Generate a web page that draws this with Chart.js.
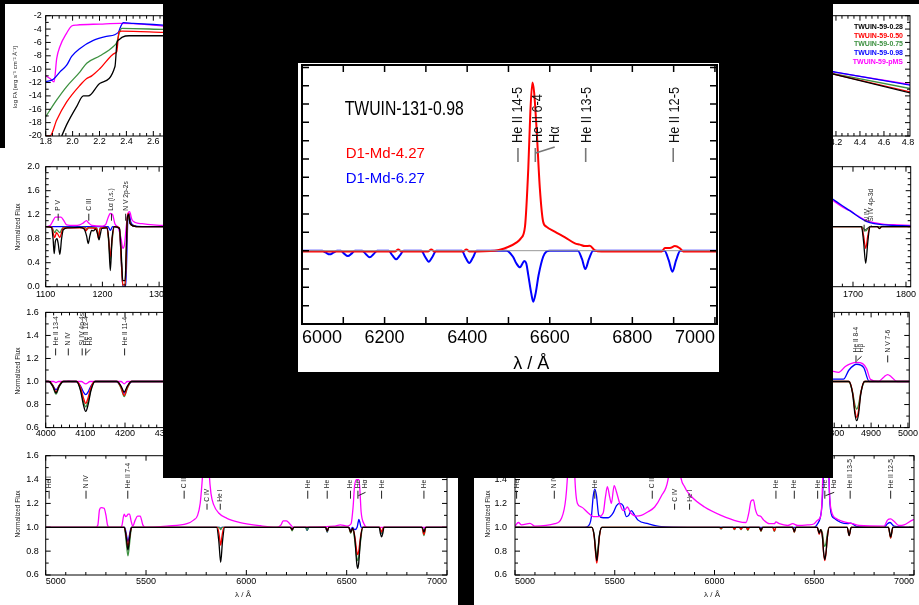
<!DOCTYPE html>
<html>

<head>
  <title>TWUIN spectra</title>
  <script src="https://cdn.jsdelivr.net/npm/chart.js"></script>
  <style>
    body {
      margin: 0;
      background: #fff;
    }

    #page {
      position: relative;
      width: 919px;
      height: 605px;
      overflow: hidden;
      background: #fff;
    }

    #page canvas {
      position: absolute;
    }

    .blk {
      position: absolute;
      background: #000;
    }
  </style>
</head>

<body>
  <div id="page">
    <canvas id="flux-left"></canvas>
    <canvas id="flux-right"></canvas>
    <canvas id="uv-left"></canvas>
    <canvas id="uv-right"></canvas>
    <canvas id="opt-left"></canvas>
    <canvas id="opt-right"></canvas>
    <canvas id="vis-left"></canvas>
    <canvas id="vis-right"></canvas>
    <div class="blk" style="left:0;top:0;width:919px;height:4px"></div>
    <div class="blk" style="left:0;top:0;width:5px;height:148px"></div>
    <div class="blk" style="left:163px;top:0;width:670px;height:478px"></div>
    <div class="blk" style="left:458px;top:478px;width:16px;height:127px"></div>
    <canvas id="inset"></canvas>
  </div>
  <script>
    const FONT = "'Liberation Sans', Arial, Helvetica, sans-serif";
    Chart.defaults.font.family = FONT;

    // ---------- main inset: TWUIN-131-0.98 ----------
    const insetTicksX = [6000, 6200, 6400, 6600, 6800, 7000];
    const insetTicksY = [0.6, 0.8, 1.0, 1.2, 1.4, 1.6, 1.8, 2.0];
    const insetContinuum = [[6000, 1], [7005, 1]];
    const insetRed = [ // D1-Md-4.27
      [6000, 0.996], [6150, 0.996], [6225, 0.996], [6233, 1.007], [6241, 0.996], [6305, 0.996], [6313, 1.007],
      [6321, 0.996], [6390, 0.996], [6398, 1.007], [6406, 0.996], [6467, 1.0], [6499, 1.02], [6519, 1.044],
      [6530, 1.067], [6540, 1.131], [6548, 1.449], [6553, 1.758], [6558, 1.918], [6562, 1.867], [6568, 1.667],
      [6576, 1.34], [6584, 1.158], [6592, 1.131], [6612, 1.104], [6637, 1.073], [6661, 1.04], [6673, 1.033],
      [6685, 1.025], [6697, 1.027], [6709, 1.002], [6725, 0.996], [6871, 0.996], [6879, 1.015], [6891, 1.015],
      [6903, 1.025], [6915, 1.013], [6923, 0.996], [7005, 0.996]
    ];
    const insetBlue = [ // D1-Md-6.27
      [6000, 1], [6049, 1], [6058, 0.989], [6067, 0.98], [6076, 0.989], [6085, 1],
      [6094, 1], [6102, 0.984], [6111, 0.971], [6120, 0.984], [6128, 1],
      [6146, 1], [6155, 0.98], [6164, 0.964], [6173, 0.98], [6182, 1],
      [6210, 1], [6219, 0.974], [6228, 0.953], [6237, 0.974], [6246, 1],
      [6289, 1], [6298, 0.967], [6307, 0.94], [6316, 0.967], [6325, 1],
      [6387, 1], [6396, 0.963], [6405, 0.933], [6414, 0.963], [6423, 1],
      [6495, 1], [6511, 0.967], [6519, 0.931], [6528, 0.909], [6533, 0.926], [6538, 0.944], [6543, 0.931],
      [6548, 0.867], [6555, 0.77], [6560, 0.722], [6566, 0.77], [6573, 0.867], [6584, 0.967], [6592, 0.995], [6600, 1],
      [6668, 1], [6678, 0.955], [6686, 0.9], [6695, 0.955], [6705, 1],
      [6878, 1], [6888, 0.948], [6897, 0.885], [6906, 0.948], [6916, 1], [7005, 1]
    ];
    const insetLines = [
      { t: 'He II 14-5', wl: 6523 },
      { t: 'He II 6-4', wl: 6570, tw: 6565 },
      { t: 'H\u03B1', wl: 6612, link: 6566 },
      { t: 'He II 13-5', wl: 6689, tw: 6687 },
      { t: 'He II 12-5', wl: 6902, tw: 6899 }
    ];

    // ---------- background grid of TWUIN-59 models ----------
    const modelNames = ['TWUIN-59-0.28', 'TWUIN-59-0.50', 'TWUIN-59-0.75', 'TWUIN-59-0.98', 'TWUIN-59-pMS'];
    const modelColors = ['#000000', '#ff0000', '#3d9140', '#0000ff', '#ff00ff'];

    const logLamTicks = [1.8, 2.0, 2.2, 2.4, 2.6, 2.8, 3.0, 3.2, 3.4, 3.6, 3.8, 4.0, 4.2, 4.4, 4.6, 4.8];
    const logFTicks = [-20, -18, -16, -14, -12, -10, -8, -6, -4, -2];
    const uvTicks = [1100, 1200, 1300, 1400, 1500, 1600, 1700, 1800];
    const optTicks = [4000, 4100, 4200, 4300, 4400, 4500, 4600, 4700, 4800, 4900, 5000];
    const visTicks = [5000, 5500, 6000, 6500, 7000];
    const normTicksUV = [0.0, 0.4, 0.8, 1.2, 1.6, 2.0];
    const normTicks = [0.6, 0.8, 1.0, 1.2, 1.4, 1.6];

    // log F_lambda vs log lambda (left panel)
    const fluxLeft = [
      [[1.919, -20], [1.956, -18.3], [2.03, -15.6], [2.08, -14.0], [2.117, -14.0], [2.204, -12.1], [2.315, -9.6],
      [2.33, -6.0], [2.345, -5.6], [2.37, -5.2], [2.42, -5.0], [2.674, -5.0]],
      [[1.8, -20], [1.832, -20], [1.882, -17.6], [1.956, -14.9], [2.055, -12.4], [2.105, -11.4], [2.142, -11.0],
      [2.204, -9.9], [2.315, -7.6], [2.328, -7.4], [2.345, -4.4], [2.365, -4.3], [2.674, -4.5]],
      [[1.8, -17.1], [1.882, -14.6], [1.956, -12.6], [2.055, -10.4], [2.105, -9.1], [2.204, -8.0], [2.303, -6.6],
      [2.328, -6.0], [2.347, -4.6], [2.365, -3.9], [2.674, -4.05]],
      [[1.8, -11.9], [1.857, -11.5], [1.906, -10.4], [1.956, -9.4], [1.993, -8.1], [2.055, -6.9], [2.154, -5.7],
      [2.253, -5.1], [2.34, -4.5], [2.357, -3.65], [2.377, -3.05], [2.45, -3.15], [2.674, -3.4]],
      [[1.8, -11.0], [1.832, -11.4], [1.862, -11.9], [1.882, -8.4], [1.906, -6.6], [1.956, -4.6], [1.993, -3.55],
      [2.03, -3.4], [2.204, -3.25], [2.352, -3.15], [2.45, -3.2], [2.674, -3.55]]
    ];
    // log F_lambda vs log lambda (right panel, far IR tail)
    const fluxRight = [
      [[4.17, -10.7], [4.82, -13.55]],
      [[4.17, -10.7], [4.82, -13.4]],
      [[4.17, -10.65], [4.82, -12.9]],
      [[4.17, -10.35], [4.82, -12.4]],
      [[4.17, -10.4], [4.82, -12.3]]
    ];

    // UV normalized flux, 1100-1300 A
    const uvLeft = [
      [[1100, 1], [1110, 0.99], [1113, 0.8], [1115, 0.55], [1117, 0.75], [1120, 0.8], [1122, 0.72], [1125, 0.54],
      [1128, 0.8], [1131, 0.95], [1140, 0.98], [1160, 0.99], [1168, 0.96], [1172, 0.85], [1175, 0.72], [1178, 0.85],
      [1181, 0.94], [1184, 0.93], [1188, 0.96], [1192, 0.86], [1194, 0.78], [1196, 0.86], [1199, 0.97], [1208, 0.98],
      [1211, 0.8], [1214, 0.27], [1217, 0.8], [1221, 1.0], [1230, 0.97], [1233, 0.6], [1236, 0.1], [1240, 0.1],
      [1242, 0.6], [1244, 1.15], [1246, 1.2], [1249, 1.05], [1260, 1.0], [1800, 1]],
      [[1100, 1], [1111, 0.99], [1113, 0.9], [1116, 0.82], [1119, 0.9], [1121, 0.88], [1125, 0.82], [1128, 0.9],
      [1131, 0.98], [1168, 0.98], [1171, 0.93], [1174, 0.98], [1190, 0.97], [1193, 0.8], [1196, 0.97], [1208, 0.99],
      [1211, 0.8], [1214, 0.5], [1217, 0.8], [1221, 1.0], [1230, 0.98], [1233, 0.5], [1236, 0.03], [1240, 0.03],
      [1242, 0.5], [1244, 1.15], [1246, 1.22], [1249, 1.05], [1260, 1.0], [1800, 1]],
      [[1100, 1], [1111, 0.99], [1113, 0.95], [1116, 0.9], [1119, 0.95], [1125, 0.9], [1128, 0.95], [1131, 0.99],
      [1170, 0.99], [1173, 0.95], [1176, 0.99], [1190, 0.98], [1193, 0.85], [1196, 0.98], [1208, 0.99], [1211, 0.75],
      [1214, 0.45], [1217, 0.75], [1221, 1.0], [1230, 0.98], [1233, 0.5], [1236, 0.03], [1240, 0.03], [1242, 0.5],
      [1244, 1.1], [1246, 1.18], [1249, 1.05], [1260, 1.0], [1800, 1]],
      [[1100, 1], [1210, 1], [1214, 0.94], [1218, 1], [1230, 0.98], [1233, 0.5], [1236, 0.0], [1241, 0.0],
      [1243, 0.5], [1245, 1.15], [1247, 1.22], [1250, 1.08], [1256, 1.02], [1270, 1.0], [1800, 1]],
      [[1100, 1], [1108, 1.02], [1113, 1.1], [1117, 1.16], [1127, 1.16], [1132, 1.1], [1137, 1.03], [1150, 1.02],
      [1160, 1.03], [1166, 1.06], [1172, 1.1], [1176, 1.06], [1182, 1.02], [1200, 1.01], [1206, 1.04], [1210, 1.15],
      [1214, 1.22], [1218, 1.2], [1222, 1.05], [1228, 0.98], [1233, 0.8], [1236, 0.64], [1239, 0.7], [1242, 1.0],
      [1245, 1.22], [1248, 1.25], [1252, 1.12], [1258, 1.07], [1270, 1.05], [1290, 1.03], [1310, 1.02], [1800, 1]]
    ];
    const uvLeftLines = [
      { t: 'P V', wl: 1122 }, { t: 'C III', wl: 1176 }, { t: 'L\u03B1 (i.s.)', wl: 1216 }, { t: 'N V 2p-2s', wl: 1241 }
    ];

    // UV normalized flux, 1650-1810 A
    const uvRight = [
      [[1660, 1], [1716, 1], [1720, 0.75], [1724, 0.39], [1728, 0.75], [1732, 1], [1746, 1], [1750, 0.97], [1754, 1], [1810, 1]],
      [[1660, 1], [1716, 1], [1720, 0.85], [1724, 0.64], [1728, 0.85], [1732, 1], [1746, 1], [1750, 0.97], [1754, 1], [1810, 1]],
      [[1660, 1], [1716, 1], [1720, 0.97], [1724, 0.93], [1728, 0.97], [1732, 1], [1810, 1]],
      [[1660, 1.47], [1680, 1.35], [1700, 1.23], [1713, 1.15], [1725, 1.09], [1740, 1.05], [1760, 1.03], [1810, 1.01]],
      [[1660, 1.45], [1680, 1.33], [1690, 1.28], [1695, 1.27], [1702, 1.22], [1713, 1.16], [1725, 1.1], [1737, 1.07],
      [1760, 1.04], [1785, 1.03], [1810, 1.02]]
    ];
    const uvRightLines = [{ t: 'N IV', wl: 1726, tw: 1721 }, { t: 'Si IV 4p-3d', wl: 1735, link: 1723 }];

    // optical normalized flux, 4000-4300 A
    const optLeft = [
      [[4000, 1], [4008, 1], [4018, 0.96], [4026, 0.9], [4034, 0.96], [4044, 1], [4078, 1], [4088, 0.92], [4095, 0.8],
      [4101, 0.74], [4107, 0.8], [4114, 0.92], [4124, 1], [4180, 1], [4190, 0.96], [4198, 0.91], [4206, 0.96], [4216, 1], [4300, 1]],
      [[4000, 1], [4008, 1], [4018, 0.965], [4026, 0.91], [4034, 0.965], [4044, 1], [4078, 1], [4088, 0.95], [4095, 0.86],
      [4101, 0.81], [4107, 0.86], [4114, 0.95], [4124, 1], [4180, 1], [4190, 0.95], [4198, 0.88], [4206, 0.95], [4216, 1], [4300, 1]],
      [[4000, 1], [4008, 1], [4018, 0.955], [4026, 0.89], [4034, 0.955], [4044, 1], [4078, 1], [4088, 0.93], [4095, 0.83],
      [4101, 0.78], [4107, 0.83], [4114, 0.93], [4124, 1], [4180, 1], [4190, 0.94], [4198, 0.87], [4206, 0.94], [4216, 1], [4300, 1]],
      [[4000, 1], [4006, 1], [4017, 0.97], [4026, 0.93], [4035, 0.97], [4046, 1], [4076, 1], [4088, 0.96], [4095, 0.91],
      [4101, 0.886], [4107, 0.91], [4114, 0.96], [4126, 1], [4178, 1], [4189, 0.96], [4198, 0.9], [4207, 0.96], [4218, 1], [4300, 1]],
      [[4000, 1], [4020, 1], [4026, 0.99], [4032, 1], [4052, 1], [4058, 1.006], [4064, 1], [4090, 1], [4101, 0.98],
      [4112, 1], [4190, 1], [4198, 0.98], [4206, 1], [4300, 1]]
    ];
    const optLeftLines = [
      { t: 'He II 13-4', wl: 4025 }, { t: 'N IV', wl: 4057 }, { t: 'Si IV 4p-4s', wl: 4092 },
      { t: 'He II 12-4', wl: 4101 }, { t: 'H\u03B4', wl: 4112, link: 4102 }, { t: 'He II 11-4', wl: 4199 }
    ];

    // optical normalized flux, 4800-5000 A
    const optRight = [
      [[4795, 1], [4840, 1], [4850, 0.89], [4856, 0.72], [4861, 0.66], [4866, 0.72], [4872, 0.89], [4882, 1], [5004, 1]],
      [[4795, 1], [4840, 1], [4850, 0.9], [4856, 0.75], [4861, 0.69], [4866, 0.75], [4872, 0.9], [4882, 1], [5004, 1]],
      [[4795, 1], [4838, 1], [4849, 0.92], [4856, 0.8], [4861, 0.76], [4866, 0.8], [4873, 0.92], [4884, 1], [5004, 1]],
      [[4795, 1.02], [4825, 1.02], [4840, 1.1], [4861, 1.15], [4880, 1.12], [4895, 1.0], [5004, 1.0]],
      [[4795, 1.09], [4812, 1.08], [4830, 1.13], [4845, 1.155], [4861, 1.166], [4877, 1.155], [4888, 1.11], [4898, 1.02],
      [4920, 1.0], [4935, 1.04], [4945, 1.06], [4955, 1.04], [4970, 1.0], [5004, 1.0]]
    ];
    const optRightLines = [{ t: 'He II 8-4', wl: 4859 }, { t: 'H\u03B2', wl: 4874, link: 4862 }, { t: 'N V 7-6', wl: 4945 }];

    // visual normalized flux, 5000-7000 A (left model set)
    const visLeft = [
      [[5000, 1], [5392, 1], [5401, 0.92], [5410, 0.81], [5419, 0.92], [5428, 1], [5852, 1], [5863, 0.88], [5872, 0.706],
      [5881, 0.88], [5892, 1], [6220, 1], [6228, 0.98], [6236, 1], [6395, 1], [6403, 0.97], [6411, 1], [6510, 1],
      [6520, 0.96], [6530, 0.99], [6541, 0.9], [6550, 0.7], [6555, 0.656], [6560, 0.7], [6569, 0.9], [6580, 1],
      [6662, 1], [6668, 0.95], [6674, 0.92], [6680, 0.95], [6686, 1], [6876, 1], [6885, 0.96], [6894, 1], [7000, 1]],
      [[5000, 1], [5392, 1], [5401, 0.93], [5410, 0.84], [5419, 0.93], [5428, 1], [5856, 1], [5865, 0.93], [5872, 0.85],
      [5879, 0.93], [5888, 1], [6220, 1], [6228, 0.98], [6236, 1], [6395, 1], [6403, 0.97], [6411, 1], [6510, 1],
      [6520, 0.96], [6530, 0.99], [6541, 0.92], [6550, 0.8], [6555, 0.77], [6560, 0.8], [6569, 0.92], [6580, 1],
      [6664, 1], [6674, 0.96], [6684, 1], [6875, 1], [6885, 0.94], [6895, 1], [7000, 1]],
      [[5000, 1], [5392, 1], [5401, 0.88], [5410, 0.76], [5419, 0.88], [5428, 1], [5866, 1], [5872, 0.98], [5878, 1],
      [6220, 1], [6228, 0.97], [6236, 1], [6295, 1], [6303, 0.975], [6311, 1], [6395, 1], [6403, 0.96], [6411, 1],
      [6510, 1], [6520, 0.95], [6530, 0.99], [6541, 0.88], [6550, 0.75], [6555, 0.72], [6560, 0.75], [6569, 0.88],
      [6580, 1], [6664, 1], [6674, 0.95], [6684, 1], [6875, 1], [6885, 0.93], [6895, 1], [7000, 1]],
      [[5000, 1], [5394, 1], [5402, 0.94], [5410, 0.88], [5418, 0.94], [5426, 1], [5866, 1], [5872, 0.99], [5878, 1],
      [6220, 1], [6228, 0.98], [6236, 1], [6295, 1], [6303, 0.975], [6311, 1], [6395, 1], [6403, 0.96], [6411, 1],
      [6512, 1], [6520, 0.97], [6528, 1], [6540, 0.98], [6552, 1.0], [6557, 1.04], [6561, 1.066], [6566, 1.04],
      [6572, 1.0], [6580, 1], [6664, 1], [6674, 0.95], [6684, 1], [6876, 1], [6885, 0.955], [6894, 1], [7000, 1]],
      [[5000, 1], [5250, 1], [5260, 1.019], [5268, 1.145], [5276, 1.164], [5291, 1.159], [5300, 1.103], [5308, 1.019],
      [5316, 1], [5370, 1], [5379, 1.01], [5391, 1.11], [5398, 1.09], [5404, 1.095], [5411, 1.11], [5418, 1.11],
      [5426, 1.05], [5434, 1.01], [5446, 1.06], [5458, 1.094], [5471, 1.094], [5484, 1.02], [5496, 1], [5604, 1.01],
      [5704, 1.03], [5737, 1.06], [5757, 1.1], [5770, 1.2], [5779, 1.37], [5787, 1.56], [5795, 1.8], [5807, 1.8],
      [5815, 1.45], [5824, 1.28], [5837, 1.19], [5862, 1.12], [5903, 1.075], [5970, 1.04], [6070, 1.013], [6153, 1.0],
      [6173, 1.02], [6183, 1.053], [6200, 1.053], [6216, 1.03], [6233, 1.0], [6436, 1.01], [6469, 1.02], [6502, 1.01],
      [6522, 1.03], [6532, 1.17], [6539, 1.34], [6549, 1.4], [6561, 1.4], [6566, 1.31], [6572, 1.13], [6586, 1.03],
      [6602, 1.0], [7000, 1]]
    ];
    const visLeftLines = [
      { t: 'He I', wl: 5017 }, { t: 'N IV', wl: 5201 }, { t: 'He II 7-4', wl: 5409 }, { t: 'C III', wl: 5690 },
      { t: 'He I', wl: 6306 }, { t: 'He I', wl: 6403 }, { t: 'He I', wl: 6519 }, { t: 'He II', wl: 6556 },
      { t: 'H\u03B1', wl: 6594, link: 6558 }, { t: 'He I', wl: 6674 }, { t: 'He I', wl: 6885 }
    ];
    const visLeftLinesLow = [{ t: 'C IV', wl: 5804 }, { t: 'He I', wl: 5870 }];

    // visual normalized flux, 5000-7000 A (right model set)
    const visRight = [
      [[5000, 1], [5385, 1], [5397, 0.93], [5404, 0.8], [5410, 0.72], [5416, 0.8], [5423, 0.93], [5435, 1], [6225, 1],
      [6233, 0.975], [6241, 1], [6392, 1], [6400, 0.965], [6408, 1], [6515, 1], [6525, 0.95], [6532, 0.98], [6541, 0.92],
      [6547, 0.79], [6553, 0.73], [6559, 0.79], [6566, 0.92], [6575, 1], [6665, 1], [6675, 0.93], [6685, 1], [6872, 1],
      [6883, 0.92], [6894, 1], [7000, 1]],
      [[5000, 1], [5385, 1], [5397, 0.92], [5404, 0.78], [5410, 0.7], [5416, 0.78], [5423, 0.92], [5435, 1], [6025, 1],
      [6033, 0.99], [6041, 1], [6092, 1], [6100, 0.985], [6108, 1], [6125, 1], [6133, 0.985], [6141, 1], [6159, 1],
      [6167, 0.98], [6175, 1], [6225, 1], [6233, 0.97], [6241, 1], [6292, 1], [6300, 0.97], [6308, 1], [6392, 1],
      [6400, 0.96], [6408, 1], [6515, 1], [6525, 0.94], [6532, 0.98], [6541, 0.92], [6547, 0.78], [6553, 0.72],
      [6559, 0.78], [6566, 0.92], [6575, 1], [6665, 1], [6675, 0.93], [6685, 1], [6872, 1], [6883, 0.91], [6894, 1], [7000, 1]],
      [[5000, 1], [5385, 1], [5397, 0.93], [5404, 0.82], [5410, 0.75], [5416, 0.82], [5423, 0.93], [5435, 1], [6025, 1],
      [6033, 0.985], [6041, 1], [6092, 1], [6100, 0.98], [6108, 1], [6125, 1], [6133, 0.98], [6141, 1], [6159, 1],
      [6167, 0.975], [6175, 1], [6225, 1], [6233, 0.965], [6241, 1], [6292, 1], [6300, 0.965], [6308, 1], [6392, 1],
      [6400, 0.955], [6408, 1], [6515, 1], [6525, 0.95], [6532, 0.98], [6541, 0.95], [6547, 0.87], [6553, 0.84],
      [6559, 0.87], [6566, 0.95], [6575, 1], [6665, 1], [6675, 0.94], [6685, 1], [6872, 1], [6883, 0.91], [6894, 1], [7000, 1]],
      [[5000, 1], [5350, 1], [5375, 1.03], [5383, 1.09], [5392, 1.26], [5400, 1.32], [5408, 1.27], [5420, 1.1],
      [5442, 1.08], [5467, 1.08], [5492, 1.12], [5508, 1.18], [5525, 1.2], [5542, 1.18], [5558, 1.09], [5570, 1.1],
      [5583, 1.14], [5600, 1.1], [5617, 1.06], [5667, 1.03], [5733, 1.005], [5867, 1], [6500, 1], [6517, 1.03],
      [6530, 1.08], [6538, 1.17], [6545, 1.4], [6550, 1.8], [6570, 1.8], [6575, 1.34], [6583, 1.13], [6600, 1.075],
      [6633, 1.04], [6667, 1.03], [6683, 1.035], [6717, 1.005], [6850, 1], [6867, 1.03], [6880, 1.04], [6900, 1.01], [7000, 1]],
      [[5000, 1.01], [5017, 1.04], [5033, 1.02], [5075, 1.033], [5100, 1.01], [5200, 1.03], [5233, 1.075], [5255, 1.25],
      [5267, 1.55], [5275, 1.9], [5292, 1.9], [5300, 1.42], [5313, 1.2], [5333, 1.17], [5367, 1.12], [5392, 1.09],
      [5417, 1.09], [5442, 1.12], [5453, 1.25], [5463, 1.34], [5475, 1.25], [5483, 1.2], [5497, 1.35], [5508, 1.3],
      [5525, 1.2], [5542, 1.14], [5553, 1.15], [5563, 1.17], [5580, 1.12], [5608, 1.094], [5633, 1.1], [5667, 1.13],
      [5700, 1.17], [5733, 1.26], [5767, 1.4], [5780, 1.59], [5792, 1.9], [5813, 1.9], [5825, 1.5], [5850, 1.34],
      [5883, 1.26], [5950, 1.17], [6033, 1.1], [6117, 1.05], [6158, 1.04], [6172, 1.12], [6183, 1.22], [6195, 1.23],
      [6205, 1.15], [6217, 1.1], [6230, 1.094], [6247, 1.06], [6275, 1.03], [6300, 1.03], [6308, 1.045], [6325, 1.03],
      [6367, 1.015], [6392, 1.03], [6417, 1.015], [6467, 1.02], [6500, 1.03], [6517, 1.06], [6533, 1.1], [6542, 1.4],
      [6547, 1.9], [6570, 1.9], [6575, 1.37], [6583, 1.16], [6608, 1.075], [6642, 1.05], [6692, 1.03], [6725, 1.015],
      [6850, 1.01], [6867, 1.06], [6883, 1.07], [6900, 1.05], [6925, 1.015], [6950, 1.02], [6992, 1.06], [7000, 1.065]]
    ];
    const visRightLines = [
      { t: 'He I', wl: 5008 }, { t: 'N IV', wl: 5197 }, { t: 'He I', wl: 5400 }, { t: 'C II', wl: 5688 },
      { t: 'He I', wl: 6308 }, { t: 'He I', wl: 6400 }, { t: 'He I', wl: 6517 }, { t: 'He II', wl: 6553 },
      { t: 'H\u03B1', wl: 6600, link: 6556 }, { t: 'He II 13-5', wl: 6680 }, { t: 'He II 12-5', wl: 6883 }
    ];
    const visRightLinesLow = [{ t: 'C IV', wl: 5800 }, { t: 'He I', wl: 5875 }];

    // ---------- drawing helpers ----------
    const fmt1 = v => v.toFixed(1);
    const fmtInt = v => String(Math.round(v));

    function keepIn(arr, s) {
      return arr.filter(v => v >= s.min - 1e-9 && v <= s.max + 1e-9);
    }

    function eachStep(min, max, st, fn) {
      const n0 = Math.ceil(min / st[0] - 1e-6), n1 = Math.floor(max / st[0] + 1e-6);
      for (let n = n0; n <= n1; n++) {
        const v = n * st[0], q = v / st[1];
        fn(v, Math.abs(q - Math.round(q)) < 1e-6);
      }
    }

    function decoPlugin(p) {
      const d = p.deco;
      return {
        id: 'deco',
        afterDraw(chart) {
          const ctx = chart.ctx, a = chart.chartArea;
          const xs = chart.scales.x, ys = chart.scales.y;
          ctx.save();
          // inward ticks on all four sides
          ctx.strokeStyle = '#000';
          ctx.lineWidth = d.tickW;
          ctx.beginPath();
          eachStep(xs.min, xs.max, d.xStep, (v, major) => {
            const px = xs.getPixelForValue(v), L = major ? d.len[0] : d.len[1];
            ctx.moveTo(px, a.bottom); ctx.lineTo(px, a.bottom - L);
            ctx.moveTo(px, a.top); ctx.lineTo(px, a.top + L);
          });
          eachStep(ys.min, ys.max, d.yStep, (v, major) => {
            const py = ys.getPixelForValue(v), L = major ? d.len[0] : d.len[1];
            ctx.moveTo(a.left, py); ctx.lineTo(a.left + L, py);
            ctx.moveTo(a.right, py); ctx.lineTo(a.right - L, py);
          });
          ctx.stroke();
          ctx.lineWidth = d.frameW;
          ctx.strokeRect(a.left, a.top, a.right - a.left, a.bottom - a.top);

          // line identifications
          const s = d.ids;
          if (s) {
            [[p.lines || [], s.row1], [p.linesLow || [], s.row2]].forEach(([items, row]) => {
              items.forEach(it => {
                const px = xs.getPixelForValue(it.wl);
                const yb = a.top + row[0];
                ctx.save();
                ctx.translate(px, yb);
                ctx.rotate(-Math.PI / 2);
                ctx.scale(s.sx, 1);
                ctx.font = s.font;
                ctx.fillStyle = s.color;
                ctx.textAlign = 'left';
                ctx.textBaseline = 'middle';
                ctx.fillText(it.t, 0, 0);
                ctx.restore();
                ctx.strokeStyle = s.tick;
                ctx.lineWidth = s.tickW;
                ctx.beginPath();
                if (it.link !== undefined) {
                  ctx.moveTo(px, yb + 4);
                  ctx.lineTo(xs.getPixelForValue(it.link), a.top + row[1] + 5);
                } else {
                  const tx = xs.getPixelForValue(it.tw !== undefined ? it.tw : it.wl);
                  ctx.moveTo(tx, a.top + row[1]);
                  ctx.lineTo(tx, a.top + row[2]);
                }
                ctx.stroke();
              });
            });
          }

          // free texts, given in page coordinates
          (d.texts || []).forEach(t => {
            ctx.save();
            ctx.translate(t.x - p.box[0], t.y - p.box[1]);
            if (t.rot) ctx.rotate(t.rot * Math.PI / 180);
            ctx.scale(t.sx || 1, 1);
            ctx.font = (t.bold ? 'bold ' : '') + t.size + 'px ' + FONT;
            ctx.fillStyle = t.color || '#000';
            ctx.textAlign = t.align || 'center';
            ctx.textBaseline = 'middle';
            ctx.fillText(t.t, 0, 0);
            ctx.restore();
          });
          ctx.restore();
        }
      };
    }

    function buildPanel(p) {
      const cv = document.getElementById(p.id);
      const [bx, by, bw, bh] = p.box;
      const [al, at, ar, ab] = p.area;
      cv.width = bw;
      cv.height = bh;
      cv.style.left = bx + 'px';
      cv.style.top = by + 'px';
      cv.style.background = '#fff';
      return new Chart(cv, {
        type: 'line',
        data: {
          datasets: p.series.map(s => ({
            data: s.data.map(([x, y]) => ({ x, y })),
            borderColor: s.color,
            borderWidth: s.width,
            pointRadius: 0,
            fill: false,
            cubicInterpolationMode: 'monotone'
          }))
        },
        options: {
          responsive: false,
          animation: false,
          devicePixelRatio: 1,
          events: [],
          layout: { autoPadding: false, padding: { left: 0, top: at - by, right: bx + bw - ar, bottom: 0 } },
          plugins: { legend: { display: false }, tooltip: { enabled: false } },
          scales: {
            x: {
              type: 'linear',
              min: p.x.min,
              max: p.x.max,
              grid: { display: false, drawTicks: false },
              border: { display: false },
              ticks: {
                autoSkip: false, maxRotation: 0, minRotation: 0,
                align: p.x.align || 'center', padding: p.x.pad, color: '#000',
                font: { family: FONT, size: p.x.size }, callback: p.x.fmt
              },
              afterBuildTicks: s => { s.ticks = keepIn(p.x.ticks, s).map(v => ({ value: v })); },
              afterFit: s => { s.height = by + bh - ab; }
            },
            y: {
              type: 'linear',
              min: p.y.min,
              max: p.y.max,
              grid: { display: false, drawTicks: false },
              border: { display: false },
              ticks: {
                display: p.y.show !== false, autoSkip: false, padding: p.y.pad, color: '#000',
                font: { family: FONT, size: p.y.size }, callback: p.y.fmt
              },
              afterBuildTicks: s => { s.ticks = keepIn(p.y.ticks, s).map(v => ({ value: v })); },
              afterFit: s => { s.width = al - bx; }
            }
          }
        },
        plugins: [decoPlugin(p)]
      });
    }

    function modelSeries(sets, order) {
      return order.map(i => ({ data: sets[i], color: modelColors[i], width: 1.3 }));
    }

    const smallIds = (row1, row2) => ({
      font: '7px ' + FONT, sx: 0.95, color: '#222', tick: '#222', tickW: 1, row1: row1, row2: row2 || row1
    });
    const smallDeco = (xStep, yStep, ids, texts) => ({
      frameW: 1, tickW: 1, len: [5, 3], xStep: xStep, yStep: yStep, ids: ids, texts: texts
    });
    const normTitle = (x, y) => ({ t: 'Normalized Flux', x: x, y: y, size: 6.5, rot: -90, color: '#222' });
    const lamTitle = (x, y) => ({ t: '\u03BB / \u00C5', x: x, y: y, size: 8, color: '#222' });

    // ---------- background panels ----------
    buildPanel({
      id: 'flux-left', box: [0, 0, 460, 150], area: [45.7, 15.7, 435.8, 136],
      x: { min: 1.8, max: 4.7, ticks: logLamTicks, fmt: fmt1, pad: 0, size: 9 },
      y: { min: -20, max: -2, ticks: logFTicks, fmt: fmtInt, pad: 4, size: 9 },
      series: modelSeries(fluxLeft, [0, 1, 2, 3, 4]),
      deco: smallDeco([0.05, 0.2], [1, 2], null, [
        { t: 'log F\u03BB [erg s\u207B\u00B9 cm\u207B\u00B2 \u00C5\u207B\u00B9]', x: 15, y: 77, size: 6, rot: -90, color: '#222' }
      ])
    });

    buildPanel({
      id: 'flux-right', box: [475, 0, 444, 150], area: [524, 15.7, 910, 136],
      x: { min: 1.6, max: 4.817, ticks: logLamTicks, fmt: fmt1, pad: 1, size: 9 },
      y: { min: -20, max: -2, ticks: logFTicks, fmt: fmtInt, pad: 4, size: 9 },
      series: modelSeries(fluxRight, [0, 1, 2, 3, 4]),
      deco: smallDeco([0.05, 0.2], [1, 2], null, modelNames.map((n, i) => ({
        t: n, x: 903, y: 26.7 + i * 8.9, size: 7, bold: true, align: 'right', color: modelColors[i]
      })))
    });

    buildPanel({
      id: 'uv-left', box: [0, 150, 460, 150], area: [45.7, 166.7, 442.6, 286.7],
      x: { min: 1100, max: 1800, ticks: uvTicks, fmt: fmtInt, pad: 2.5, size: 9 },
      y: { min: 0, max: 2, ticks: normTicksUV, fmt: fmt1, pad: 6, size: 9 },
      series: modelSeries(uvLeft, [0, 1, 2, 4, 3]),
      lines: uvLeftLines,
      deco: smallDeco([20, 100], [0.1, 0.4], smallIds([44, 47, 54]), [normTitle(18, 227)])
    });

    buildPanel({
      id: 'uv-right', box: [475, 150, 444, 150], area: [535, 166.7, 910.7, 286.7],
      x: { min: 1100, max: 1808.9, ticks: uvTicks, fmt: fmtInt, pad: 2.5, size: 9 },
      y: { min: 0, max: 2, ticks: normTicksUV, fmt: fmt1, pad: 6, size: 9 },
      series: modelSeries(uvRight, [0, 1, 2, 3, 4]),
      lines: uvRightLines,
      deco: smallDeco([20, 100], [0.1, 0.4], smallIds([55, 58, 65]), [])
    });

    buildPanel({
      id: 'opt-left', box: [0, 300, 460, 140], area: [45.7, 311.7, 442.2, 430.7],
      x: { min: 4000, max: 5000, ticks: optTicks, fmt: fmtInt, pad: 1, size: 9 },
      y: { min: 0.6, max: 1.6, ticks: normTicks, fmt: fmt1, pad: 7, size: 9 },
      series: modelSeries(optLeft, [0, 1, 2, 3, 4]),
      lines: optLeftLines,
      deco: smallDeco([20, 100], [0.1, 0.2], smallIds([33, 36, 43]), [normTitle(18, 371)])
    });

    buildPanel({
      id: 'opt-right', box: [475, 300, 444, 140], area: [539.4, 311.7, 910.7, 430.7],
      x: { min: 4000, max: 5003.5, ticks: optTicks, fmt: fmtInt, pad: 1, size: 9 },
      y: { min: 0.6, max: 1.6, ticks: normTicks, fmt: fmt1, pad: 7, size: 9 },
      series: modelSeries(optRight, [0, 1, 2, 3, 4]),
      lines: optRightLines,
      deco: smallDeco([20, 100], [0.1, 0.2], smallIds([40, 43, 50]), [])
    });

    buildPanel({
      id: 'vis-left', box: [0, 440, 460, 165], area: [45.7, 455.7, 447, 575],
      x: { min: 5000, max: 7000, ticks: visTicks, fmt: fmtInt, pad: 1, size: 9, align: 'inner' },
      y: { min: 0.6, max: 1.6, ticks: normTicks, fmt: fmt1, pad: 7, size: 9 },
      series: modelSeries(visLeft, [0, 1, 2, 4, 3]),
      lines: visLeftLines,
      linesLow: visLeftLinesLow,
      deco: smallDeco([100, 500], [0.1, 0.2], smallIds([32.6, 35, 43], [46, 48, 54]),
        [normTitle(18, 514), lamTitle(243, 595)])
    });

    buildPanel({
      id: 'vis-right', box: [475, 440, 444, 165], area: [515, 455.7, 914, 575],
      x: { min: 5000, max: 7000, ticks: visTicks, fmt: fmtInt, pad: 1, size: 9, align: 'inner' },
      y: { min: 0.6, max: 1.6, ticks: normTicks, fmt: fmt1, pad: 8, size: 9 },
      series: modelSeries(visRight, [0, 1, 2, 4, 3]),
      lines: visRightLines,
      linesLow: visRightLinesLow,
      deco: smallDeco([100, 500], [0.1, 0.2], smallIds([32.6, 35, 43], [46, 48, 54]),
        [normTitle(488, 514), lamTitle(712, 595)])
    });

    // ---------- main inset ----------
    buildPanel({
      id: 'inset', box: [298, 63, 421, 309], area: [302, 65, 717, 324],
      x: { min: 6000, max: 7005, ticks: insetTicksX, fmt: fmtInt, pad: 3, size: 18, align: 'inner' },
      y: { min: 0.6, max: 2.013, ticks: insetTicksY, fmt: fmt1, pad: 0, size: 9, show: false },
      series: [
        { data: insetContinuum, color: '#999999', width: 1 },
        { data: insetRed, color: '#ff0000', width: 2 },
        { data: insetBlue, color: '#0000ff', width: 2 }
      ],
      lines: insetLines,
      deco: {
        frameW: 2, tickW: 1.5, len: [7, 7], xStep: [100, 100], yStep: [0.1, 0.1],
        ids: { font: '15px ' + FONT, sx: 0.85, color: '#111', tick: '#777', tickW: 1.6, row1: [78, 83, 97], row2: [78, 83, 97] },
        texts: [
          { t: 'TWUIN-131-0.98', x: 344.7, y: 109.7, size: 21, sx: 0.75, align: 'left', color: '#000' },
          { t: 'D1-Md-4.27', x: 345.7, y: 153.7, size: 15, align: 'left', color: '#ff0000' },
          { t: 'D1-Md-6.27', x: 345.7, y: 178.7, size: 15, align: 'left', color: '#0000ff' },
          { t: '\u03BB / \u00C5', x: 531.3, y: 363.7, size: 18, align: 'center', color: '#000' }
        ]
      }
    });
  </script>
</body>

</html>
